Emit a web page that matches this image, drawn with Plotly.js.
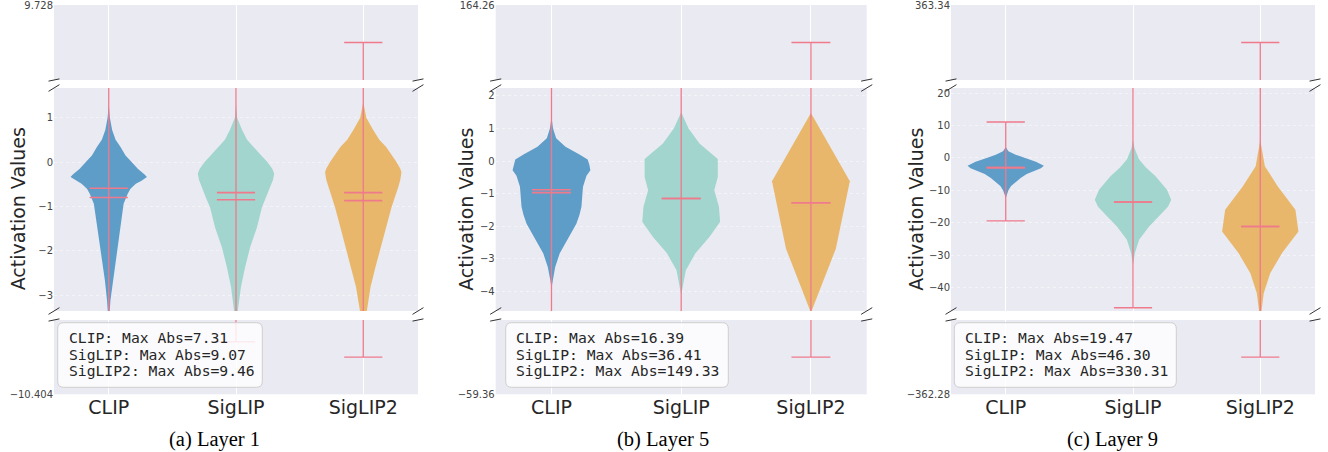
<!DOCTYPE html>
<html>
<head>
<meta charset="utf-8">
<script src="https://cdn.plot.ly/plotly-3.0.1.min.js"></script>
<style>html,body{margin:0;padding:0;background:#fff;}#chart{width:1328px;height:452px;}</style>
</head>
<body>
<div id="chart"></div>
<script>
// ---------------- data ----------------
const models = ['CLIP', 'SigLIP', 'SigLIP2'];
const captions = ['(a) Layer 1', '(b) Layer 5', '(c) Layer 9'];
const maxAbs = [[7.31, 9.07, 9.46], [16.39, 36.41, 149.33], [19.47, 46.30, 330.31]];
const dataMin = [[-7.31, -9.07, -9.458], [-16.39, -36.41, -53.96], [-19.47, -46.30, -329.35]];
const dataMax = [[5.6, 6.4, 8.844], [11.2, 20.5, 149.33], [11.1, 30.2, 330.31]];
const means = [[-0.80, -0.85, -0.87], [-0.97, -1.15, -1.28], [-3.0, -13.6, -21.2]];
const medians = [[-0.59, -0.69, -0.69], [-0.88, -1.15, -1.28], [-3.0, -13.6, -21.2]];
const topLimits = [9.728, 164.26, 363.34];
const topLabels = ['9.728', '164.26', '363.34'];
const bottomLimits = [-10.404, -59.36, -362.28];
const bottomLabels = ['\u221210.404', '\u221259.36', '\u2212362.28'];
const midLow = [-3.36, -4.6, -47.3];
const midHigh = [1.67, 2.24, 21.6];
const midTicks = [[-3, -2, -1, 0, 1], [-4, -3, -2, -1, 0, 1, 2], [-40, -30, -20, -10, 0, 10, 20]];

// violin density profiles (value, relative half-width)
const l1ClipY = [1.30, 1.00, 0.72, 0.50, 0.34, 0.15, 0.00, -0.15, -0.28, -0.34, -0.42, -0.49, -0.60, -0.71, -0.94, -1.32, -1.77, -2.22, -2.67, -3.12, -3.50];
const l1ClipW = [0.00, 0.03, 0.09, 0.18, 0.31, 0.44, 0.60, 0.76, 0.94, 1.00, 0.86, 0.71, 0.57, 0.50, 0.39, 0.33, 0.25, 0.175, 0.10, 0.045, 0.015];
const l1SigY = [1.30, 1.00, 0.72, 0.50, 0.34, 0.15, 0.00, -0.15, -0.26, -0.40, -0.56, -0.80, -1.02, -1.47, -1.92, -2.37, -2.82, -3.27, -3.50];
const l1SigW = [0.00, 0.03, 0.16, 0.29, 0.46, 0.66, 0.82, 0.95, 1.00, 0.97, 0.89, 0.79, 0.68, 0.55, 0.37, 0.24, 0.13, 0.06, 0.03];
const l1Sig2Y = [1.35, 1.00, 0.72, 0.50, 0.34, 0.15, 0.00, -0.15, -0.23, -0.40, -0.56, -1.02, -1.47, -1.92, -2.37, -2.82, -3.34, -3.60];
const l1Sig2W = [0.00, 0.08, 0.26, 0.42, 0.60, 0.76, 0.87, 0.97, 1.00, 0.97, 0.92, 0.74, 0.60, 0.45, 0.32, 0.19, 0.09, 0.05];

const l5ClipY = [1.35, 1.00, 0.70, 0.44, 0.20, 0.05, -0.10, -0.28, -0.45, -0.79, -1.40, -1.65, -1.92, -2.20, -2.43, -2.84, -3.25, -3.66, -3.90];
const l5ClipW = [0.00, 0.04, 0.12, 0.36, 0.72, 0.93, 0.97, 1.00, 0.90, 0.81, 0.77, 0.72, 0.64, 0.51, 0.41, 0.21, 0.095, 0.03, 0.00];
const l5SigY = [1.50, 1.00, 0.54, 0.06, -0.49, -0.90, -1.40, -1.86, -2.32, -2.84, -3.35, -3.86, -4.10];
const l5SigW = [0.00, 0.19, 0.47, 0.94, 0.94, 0.85, 0.97, 1.00, 0.73, 0.36, 0.12, 0.04, 0.00];
const l5Sig2Y = [1.47, -0.62, -2.69, -4.65];
const l5Sig2W = [0.00, 1.00, 0.64, 0.00];

const l9ClipY = [3.4, 2.05, 1.0, 0.0, -1.2, -2.4, -3.2, -4.1, -5.0, -6.2, -7.5, -8.7, -10.0, -11.3, -12.5];
const l9ClipW = [0.00, 0.07, 0.26, 0.50, 0.79, 1.00, 0.92, 0.73, 0.55, 0.39, 0.25, 0.14, 0.07, 0.03, 0.00];
const l9SigY = [5.5, 3.0, -0.5, -3.0, -5.7, -9.8, -12.9, -15.0, -17.0, -21.2, -25.3, -29.4, -33.0];
const l9SigW = [0.00, 0.04, 0.16, 0.34, 0.59, 0.89, 1.00, 0.92, 0.76, 0.42, 0.16, 0.05, 0.00];
const l9Sig2Y = [5.5, 3.6, -2.6, -8.8, -16.0, -22.7, -29.4, -35.6, -41.8, -47.5];
const l9Sig2W = [0.00, 0.03, 0.12, 0.46, 0.92, 1.00, 0.57, 0.26, 0.09, 0.03];

const profY = [[l1ClipY, l1SigY, l1Sig2Y], [l5ClipY, l5SigY, l5Sig2Y], [l9ClipY, l9SigY, l9Sig2Y]];
const profW = [[l1ClipW, l1SigW, l1Sig2W], [l5ClipW, l5SigW, l5Sig2W], [l9ClipW, l9SigW, l9Sig2W]];

// ---------------- style / layout ----------------
const W = 1328, H = 452;
const fillColors = ['#5f9dc9', '#a2d5cd', '#e8b76c'];
const lineColor = '#ef7a8c';
const HALF = 0.3, CAP = 0.15;
const X_RANGE = [0.57, 3.43];
const xDomPx = [[54, 418], [495.7, 866.7], [951, 1315]];
const yDomPx = [[5, 80], [88, 311], [320, 394.3]];
const px = v => v / W, py = v => 1 - v / H;

const traces = [];
const layout = {
  width: W, height: H, margin: {l: 0, r: 0, t: 0, b: 0},
  paper_bgcolor: '#ffffff', plot_bgcolor: '#EAEAF2', showlegend: false,
  font: {family: 'DejaVu Sans', color: '#262626'},
  shapes: [], annotations: []
};

for (let p = 0; p < 3; p++) {
  for (let s = 0; s < 3; s++) {
    const k = p * 3 + s + 1;
    const xa = 'x' + (k === 1 ? '' : k), ya = 'y' + (k === 1 ? '' : k);
    let range, tickvals, ticktext;
    if (s === 0) {
      const lo = topLimits[p] * 0.9 / 1.1;
      range = [lo, topLimits[p] + (topLimits[p] - lo) * 1e-4];
      tickvals = [topLimits[p]]; ticktext = [topLabels[p]];
    } else if (s === 1) {
      range = [midLow[p], midHigh[p]];
      tickvals = midTicks[p]; ticktext = midTicks[p].map(v => v < 0 ? '\u2212' + Math.abs(v) : String(v));
    } else {
      const hi = bottomLimits[p] * 0.9 / 1.1;
      range = [bottomLimits[p] - (hi - bottomLimits[p]) * 1e-4, hi];
      tickvals = [bottomLimits[p]]; ticktext = [bottomLabels[p]];
    }
    layout['xaxis' + (k === 1 ? '' : k)] = {
      domain: [px(xDomPx[p][0]), px(xDomPx[p][1])], range: X_RANGE, anchor: ya,
      tickmode: 'array', tickvals: [1, 2, 3], ticktext: models, showticklabels: s === 2,
      tickfont: {size: 19, color: '#262626', family: 'DejaVu Sans'},
      showgrid: true, gridcolor: '#ffffff', gridwidth: 1, zeroline: false, showline: false, ticks: ''
    };
    layout['yaxis' + (k === 1 ? '' : k)] = {
      domain: [py(yDomPx[s][1]), py(yDomPx[s][0])], range: range, anchor: xa,
      tickmode: 'array', tickvals: tickvals, ticktext: ticktext, ticklabeloverflow: 'allow',
      tickfont: {size: 10, color: '#444444', family: 'DejaVu Sans'},
      showgrid: s === 1, gridcolor: 'rgba(255,255,255,0.45)', griddash: 'dot', gridwidth: 1,
      zeroline: false, showline: false, ticks: ''
    };
    for (let m = 0; m < 3; m++) {
      const pos = m + 1;
      if (s === 1) {
        const ys = profY[p][m], ws = profW[p][m];
        const vx = [], vy = [];
        for (let i = 0; i < ys.length; i++) { vx.push(pos + ws[i] * HALF); vy.push(ys[i]); }
        for (let i = ys.length - 1; i >= 0; i--) { vx.push(pos - ws[i] * HALF); vy.push(ys[i]); }
        traces.push({type: 'scatter', mode: 'lines', x: vx, y: vy, fill: 'toself',
          fillcolor: fillColors[m], line: {width: 0, color: fillColors[m]}, xaxis: xa, yaxis: ya, hoverinfo: 'skip'});
      }
    }
    for (let m = 0; m < 3; m++) {
      const pos = m + 1;
      traces.push({type: 'scatter', mode: 'lines',
        x: [pos, pos, null, pos - CAP, pos + CAP, null, pos - CAP, pos + CAP],
        y: [dataMin[p][m], dataMax[p][m], null, dataMin[p][m], dataMin[p][m], null, dataMax[p][m], dataMax[p][m]],
        line: {color: lineColor, width: 1.3}, xaxis: xa, yaxis: ya, hoverinfo: 'skip', connectgaps: false});
      if (s === 1) {
        traces.push({type: 'scatter', mode: 'lines',
          x: [pos - CAP, pos + CAP, null, pos - CAP, pos + CAP],
          y: [means[p][m], means[p][m], null, medians[p][m], medians[p][m]],
          line: {color: lineColor, width: 1.6}, xaxis: xa, yaxis: ya, hoverinfo: 'skip', connectgaps: false});
      }
    }
  }

  // broken-axis diagonal marks
  const x0 = xDomPx[p][0], x1 = xDomPx[p][1], wpx = x1 - x0;
  const marks = [[yDomPx[0][1], yDomPx[0][1] - yDomPx[0][0]], [yDomPx[1][0], yDomPx[1][1] - yDomPx[1][0]],
                 [yDomPx[1][1], yDomPx[1][1] - yDomPx[1][0]], [yDomPx[2][0], yDomPx[2][1] - yDomPx[2][0]]];
  const dx = 0.015 * wpx;
  marks.forEach(([yy, hh]) => {
    const dy = 0.015 * hh;
    [x0, x1].forEach(xx => {
      layout.shapes.push({type: 'line', xref: 'paper', yref: 'paper',
        x0: px(xx - dx), y0: py(yy + dy), x1: px(xx + dx), y1: py(yy - dy),
        line: {color: '#333333', width: 1}, layer: 'above'});
    });
  });

  // text box
  const boxX = [[57.7, 262.3], [505.7, 728.3], [954.3, 1176.3]][p];
  const boxY = [322.7, 387.3];
  const r = 6, rx = r / W, ry = r / H;
  const bx0 = px(boxX[0]), bx1 = px(boxX[1]), byT = py(boxY[0]), byB = py(boxY[1]);
  const path = `M ${bx0 + rx},${byT} L ${bx1 - rx},${byT} Q ${bx1},${byT} ${bx1},${byT - ry} ` +
    `L ${bx1},${byB + ry} Q ${bx1},${byB} ${bx1 - rx},${byB} L ${bx0 + rx},${byB} Q ${bx0},${byB} ${bx0},${byB + ry} ` +
    `L ${bx0},${byT - ry} Q ${bx0},${byT} ${bx0 + rx},${byT} Z`;
  layout.shapes.push({type: 'path', xref: 'paper', yref: 'paper', path: path,
    fillcolor: 'rgba(255,255,255,0.82)', line: {color: '#cfcfcf', width: 1}, layer: 'above'});
  const textLeft = [66.7, 514.3, 963.3][p];
  const lineYs = [337.3, 354, 370.7];
  for (let m = 0; m < 3; m++) {
    layout.annotations.push({xref: 'paper', yref: 'paper', x: px(textLeft), y: py(lineYs[m]),
      xanchor: 'left', yanchor: 'middle', showarrow: false,
      text: `${models[m]}: Max Abs=${maxAbs[p][m].toFixed(2)}`,
      font: {family: 'DejaVu Sans Mono', size: 14.7, color: '#262626'}});
  }
  layout.annotations.push({xref: 'paper', yref: 'paper', x: px([18.3, 465.8, 915.8][p]), y: py(209),
    xanchor: 'center', yanchor: 'middle', showarrow: false, textangle: -90, text: 'Activation Values',
    font: {family: 'DejaVu Sans', size: 19, color: '#262626'}});
  layout.annotations.push({xref: 'paper', yref: 'paper', x: px([214, 663, 1112.5][p]), y: py(439),
    xanchor: 'center', yanchor: 'middle', showarrow: false, text: captions[p],
    font: {family: 'Liberation Serif', size: 20.5, color: '#000000'}});
}

Plotly.newPlot('chart', traces, layout, {staticPlot: true, displayModeBar: false});
</script>
</body>
</html>
